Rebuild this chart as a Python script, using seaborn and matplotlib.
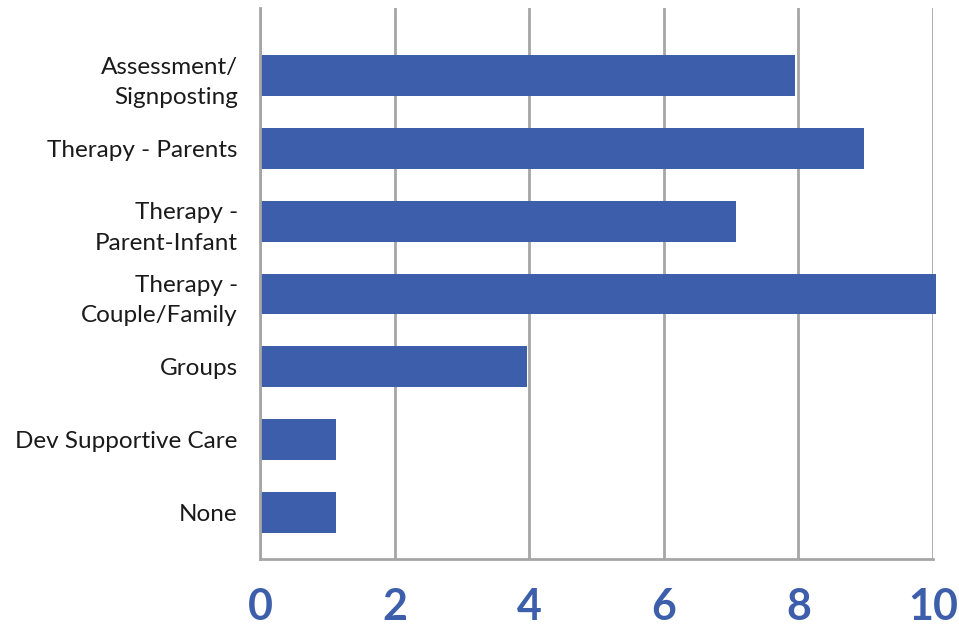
import matplotlib
matplotlib.use("Agg")
import matplotlib.pyplot as plt
import seaborn as sns
import pandas as pd

categories = [
    "Assessment/\nSignposting",
    "Therapy - Parents",
    "Therapy -\nParent-Infant",
    "Therapy -\nCouple/Family",
    "Groups",
    "Dev Supportive Care",
    "None",
]
values = [7.95, 8.97, 7.08, 10.04, 3.97, 1.13, 1.13]
x_ticks = [0, 2, 4, 6, 8, 10]

BAR = "#3D5EAA"
GRID = "#A6A6A6"

sns.set_theme(style="white")
plt.rcParams["font.family"] = ["Lato", "DejaVu Sans"]

df = pd.DataFrame({"service": categories, "count": values})

fig = plt.figure(figsize=(9.59, 6.29), dpi=100)
ax = fig.add_axes([0.2711, 0.1113, 0.7018, 0.876])

sns.barplot(data=df, y="service", x="count", color=BAR, width=0.56,
            saturation=1, orient="h", ax=ax, zorder=3)
for p in ax.patches:
    p.set_clip_on(False)
    p.set_edgecolor("none")

ax.set_xlim(0, 10)
ax.set_ylim(6.64, -0.93)
ax.set_xticks(x_ticks)
ax.set_xticklabels([str(t) for t in x_ticks])
ax.xaxis.grid(True, color=GRID, linewidth=2, zorder=0)
ax.yaxis.grid(False)

for s in ["top", "right"]:
    ax.spines[s].set_visible(False)
for s in ["left", "bottom"]:
    ax.spines[s].set_color(GRID)
    ax.spines[s].set_linewidth(2)
    ax.spines[s].set_zorder(4)

ax.tick_params(axis="x", length=0, pad=20, labelsize=31, labelcolor=BAR)
for lbl in ax.get_xticklabels():
    lbl.set_fontweight("bold")
ax.tick_params(axis="y", length=0, pad=16, labelsize=17.5, labelcolor="#1a1a1a")
for lbl in ax.get_yticklabels():
    lbl.set_linespacing(1.55)
ax.set_xlabel("")
ax.set_ylabel("")

fig.savefig("out.png", dpi=100)
